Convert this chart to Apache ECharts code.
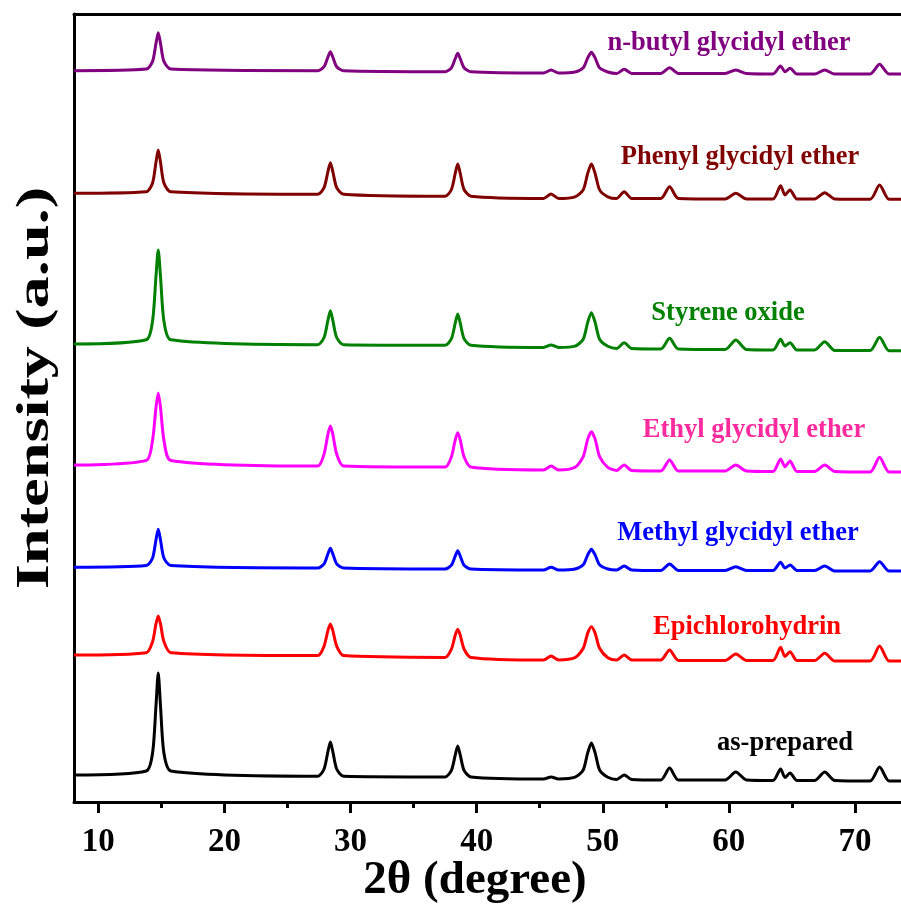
<!DOCTYPE html>
<html>
<head>
<meta charset="utf-8">
<script src="https://cdn.jsdelivr.net/npm/echarts@6/dist/echarts.min.js"></script>
<style>html,body{margin:0;padding:0;background:#fff}#c{width:901px;height:908px}</style>
</head>
<body>
<div id="c"></div>
<script>
// 2θ positions (degree) shared by all patterns
var twoTheta = [8.07,
  13.8,14.3,14.57,14.75,14.93,15.2,15.75,
  27.4,27.9,28.2,28.4,28.6,28.9,29.45,
  37.5,38.0,38.3,38.5,38.7,39.0,39.55,
  45.3,45.9,46.5,
  47.8,48.45,48.8,49.1,49.4,49.75,50.4,
  51.1,51.7,52.3,
  54.6,55.3,56.0,
  59.7,60.55,61.4,
  63.5,64.1,64.45,64.85,65.4,
  66.8,67.6,68.4,
  71.2,71.95,72.7,
  73.65];

// Stacked intensities (a.u., offset already included)
var asPrepared = [27,
  31,49,96,129,96,49,31,
  25.8,33,50,60,50,33,25.8,
  25.1,31.6,46.9,56,46.9,31.6,25.1,
  23,25,23,
  24.8,32,48.9,59,48.9,32,24.8,
  22.5,27,22.5,
  22,34,22,
  22,30,22,
  21.5,33,24.5,29,21.5,
  21.5,30,21.5,
  21,35,21,
  21];
var epichlorohydrin = [147,
  149.3,160.3,178.1,186,178.1,160.3,149.3,
  146.4,155.9,171.2,178,171.2,155.9,146.4,
  144.6,153,166.7,172.7,166.7,153,144.6,
  142,146,142,
  144.3,153.7,168.6,175.3,168.6,153.7,144.3,
  142,147,142,
  142,152,141.5,
  141.5,148,141.5,
  141.5,154.7,145.5,150.3,141.5,
  141.5,148.7,141,
  141,156,141,
  141];
var methylGE = [234.7,
  236.4,244,262,272.7,262,244,236.4,
  234,238.2,247.9,253.7,247.9,238.2,234,
  233,236.8,245.9,251.3,245.9,236.8,233,
  232,234.7,232,
  233,237.2,246.9,252.7,246.9,237.2,233,
  232,236,232,
  231.5,238,231.5,
  231.5,235.3,231.5,
  231.5,239.7,234,237,231.5,
  231.5,236,231,
  231,240.3,231,
  231];
var ethylGE = [337,
  341.6,361.9,394.5,409,394.5,361.9,341.6,
  336,348,367.4,376,367.4,348,336,
  334.9,345.3,361.9,369.3,361.9,345.3,334.9,
  332,336,332,
  334.7,345.4,362.6,370.3,362.6,345.4,334.7,
  331.5,337,331.5,
  331,342,331,
  331,337,331,
  330.5,343,335.3,341,330.5,
  330.5,337,330.5,
  330,344.7,330,
  330];
var styreneOxide = [458,
  462.2,481.1,525.5,552,525.5,481.1,462.2,
  457.3,464.5,481.3,491.3,481.3,464.5,457.3,
  456.7,463.3,478.8,488,478.8,463.3,456.7,
  454.5,457,454.5,
  455.8,462.8,479.4,489.3,479.4,462.8,455.8,
  453.5,459.3,453.5,
  453,463.7,453,
  452.5,462,452.5,
  452,462.7,456,459.3,452,
  452,460.3,451.5,
  451.5,464.7,451.3,
  451.3];
var phenylGE = [608.7,
  610.2,619,639.7,652,639.7,619,610.2,
  607.7,614.3,630,639.3,630,614.3,607.7,
  605.7,612.5,628.5,638,628.5,612.5,605.7,
  603.5,608,603.5,
  605.2,612.1,628.3,638,628.3,612.1,605.2,
  603.5,610.3,603.5,
  603.5,615.3,603.5,
  603,608.7,603,
  603,616.3,607,612,603,
  603,609.3,603,
  602.7,617,602.7,
  602.7];
var butylGE = [731.3,
  732.9,740.6,758.6,769.3,758.6,740.6,732.9,
  731.3,735.3,744.7,750.3,744.7,735.3,731.3,
  730.3,734.2,743.3,748.7,743.3,734.2,730.3,
  729,732,729,
  730,734.2,743.9,749.7,743.9,734.2,730,
  728.5,732.7,728.5,
  728.5,734.3,728.5,
  728.5,732,728.5,
  728,736,730.3,733.7,728,
  728,732,728,
  728,737.7,728,
  728];

var seriesNames = ['as-prepared','Epichlorohydrin','Methyl glycidyl ether','Ethyl glycidyl ether','Styrene oxide','Phenyl glycidyl ether','n-butyl glycidyl ether'];
var seriesValues = [asPrepared, epichlorohydrin, methylGE, ethylGE, styreneOxide, phenylGE, butylGE];
var lineColors = ['#000000','#ff0000','#0000ff','#ff00ff','#008000','#800000','#800080'];
var labelColors = ['#000000','#ff0000','#0000ff','#ff2a9d','#008000','#800000','#800080'];
var majorTicks = [10,20,30,40,50,60,70];

// label anchor positions (pixels)
var labelPos = [[785,743],[747,627],[738,533],[754,430],[728,313],[740,157],[729,43]];

var FONT = '"Liberation Serif","Times New Roman",serif';

var series = seriesNames.map(function(n,i){
  return {
    name:n, type:'line', showSymbol:false, symbol:'none', smooth:0.25,
    lineStyle:{color:lineColors[i], width:3},
    itemStyle:{color:lineColors[i]},
    data: twoTheta.map(function(x,j){return [x, seriesValues[i][j]];})
  };
});

var graphics = seriesNames.map(function(n,i){
  return {type:'text', x:labelPos[i][0], y:labelPos[i][1], z:100,
    style:{text:n, fill:labelColors[i], fontSize:26.5, fontWeight:'bold', fontFamily:FONT, align:'center', verticalAlign:'middle'}};
});
graphics.push({type:'text', x:475, y:881, z:100,
  style:{text:'2θ (degree)', fill:'#000', fontSize:47, fontWeight:'bold', fontFamily:FONT, align:'center', verticalAlign:'middle'}});
graphics.push({type:'text', x:36, y:388, rotation:Math.PI/2, scaleX:1.37, z:100,
  style:{text:'Intensity (a.u.)', fill:'#000', fontSize:47, fontWeight:'bold', fontFamily:FONT, align:'center', verticalAlign:'middle'}});

var chart = echarts.init(document.getElementById('c'), null, {renderer:'canvas'});
chart.setOption({
  animation:false,
  backgroundColor:'#fff',
  grid:{left:74, top:14, right:0, bottom:106, containLabel:false},
  xAxis:[{
    type:'value', min:8.07, max:73.65, position:'bottom',
    axisLine:{show:true, lineStyle:{color:'#000', width:3}},
    axisTick:{show:true, customValues:majorTicks, length:11, inside:false, lineStyle:{color:'#000', width:3}},
    minorTick:{show:true, splitNumber:2, length:6, lineStyle:{color:'#000', width:3}},
    axisLabel:{show:true, customValues:majorTicks, margin:24, color:'#000', fontSize:33, fontWeight:'bold', fontFamily:FONT},
    splitLine:{show:false}, minorSplitLine:{show:false}
  },{
    type:'value', min:8.07, max:73.65, position:'top',
    axisLine:{show:true, lineStyle:{color:'#000', width:3}},
    axisTick:{show:false}, axisLabel:{show:false}, splitLine:{show:false}
  }],
  yAxis:{
    type:'value', min:0, max:788,
    axisLine:{show:true, lineStyle:{color:'#000', width:3}},
    axisTick:{show:false}, axisLabel:{show:false}, splitLine:{show:false}
  },
  series:series,
  graphic:graphics
});
</script>
</body>
</html>
